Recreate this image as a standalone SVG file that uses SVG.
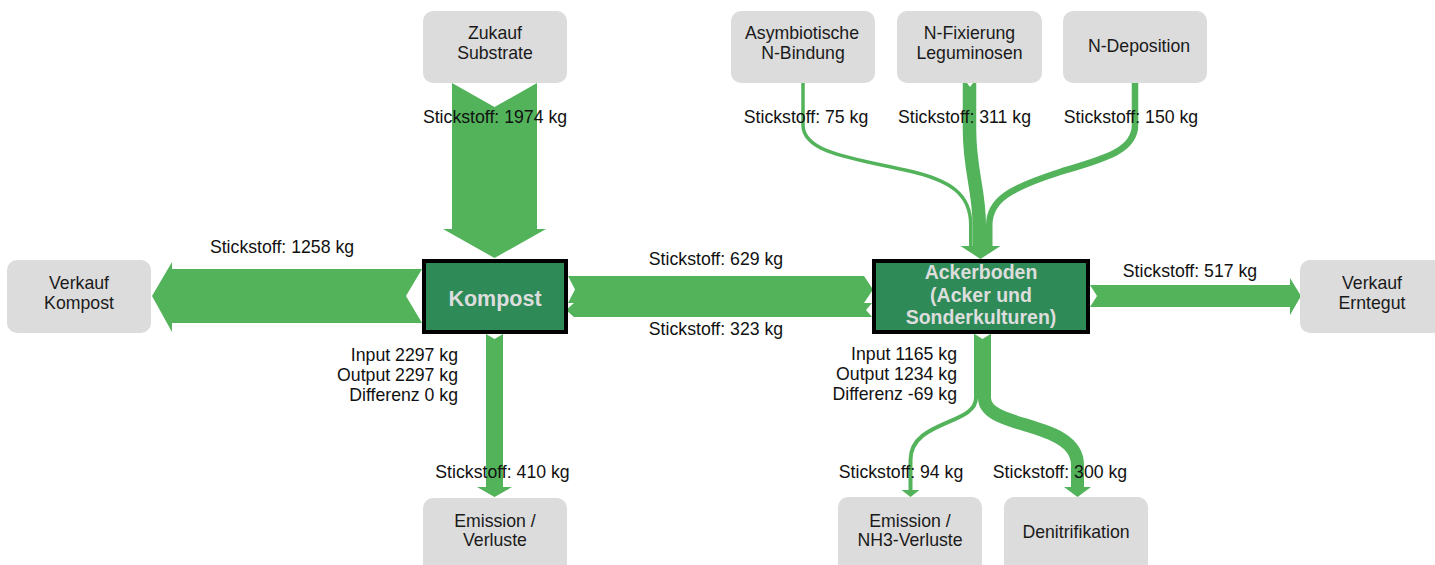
<svg xmlns="http://www.w3.org/2000/svg" width="1435" height="565" viewBox="0 0 1435 565">
<style>
.box{fill:#dcdcdc;}
.lbl{font-family:"Liberation Sans",Arial,sans-serif;font-size:17.7px;fill:#1a1a1a;text-anchor:middle;}
.flow{fill:#52b35b;}
.fs{fill:none;stroke:#52b35b;stroke-linecap:butt;}
.t{font-family:"Liberation Sans",Arial,sans-serif;font-size:17.7px;fill:#111;}
.c{text-anchor:middle;}
.r{text-anchor:end;}
.proc{fill:#2e8b57;stroke:#000;stroke-width:4;}
.pl{font-family:"Liberation Sans",Arial,sans-serif;font-weight:bold;fill:#dddddd;text-anchor:middle;}
</style>
<rect width="1435" height="565" fill="#fff"/>
<g id="connectors">
  <!-- Zukauf -> Kompost 1974 -->
  <polygon class="flow" points="452,83 494.5,107 537,83 537,229 546,229 494.5,258 443,229 452,229"/>
  <!-- Kompost -> Verkauf Kompost 1258 -->
  <polygon class="flow" points="422,269 172,269 172,262 152,296 172,332 172,323 422,323 406,296"/>
  <!-- Kompost -> Ackerboden 629 -->
  <polygon class="flow" points="568,276 864,276 873,289.5 864,303 568,303 575,289.5"/>
  <!-- Ackerboden -> Kompost 323 -->
  <polygon class="flow" points="872,303 866,310 872,317 574,317 566,310 574,303"/>
  <!-- Kompost -> Emission 410 -->
  <polygon class="flow" points="486,334 494.5,339 503,334 503,487 512,487 494.5,497 477,487 486,487"/>
  <!-- Ackerboden -> Verkauf Erntegut 517 -->
  <polygon class="flow" points="1090,285 1290,285 1290,278 1301,296 1290,315 1290,307 1090,307 1097,296"/>
  <!-- inflows to Ackerboden -->
  <path class="fs" stroke-width="3.5" d="M803,83 V125 C803,152 850,158 905,170 C952,180 970.75,195 970.75,225 V247"/>
  <path class="fs" stroke-width="13.5" d="M969.5,83 V130 C969.5,170 979.25,190 979.25,225 V247"/>
  <path class="fs" stroke-width="6.5" d="M1135,83 V125 C1135,152 1100,160 1060,172 C1010,188 989.25,200 989.25,225 V247"/>
  <polygon fill="#fff" points="967,83 970,87 973,83"/>
  <polygon class="flow" points="960.5,246 1000.5,246 980.5,259"/>
  <!-- outflows from Ackerboden -->
  <path class="fs" stroke-width="4" d="M976,334 V398 C976,425 910.5,420 910.5,460 V491"/>
  <path class="fs" stroke-width="13" d="M984.5,334 V398 C984.5,430 1077.5,420 1077.5,465 V488"/>
  <polygon fill="#fff" points="973,333 982.5,339 992,333"/>
  <polygon class="flow" points="901.5,490 919.5,490 910.5,497"/>
  <polygon class="flow" points="1064,487 1091,487 1077.5,497"/>
</g>
<g id="labels">
  <text class="t c" x="495" y="123">Stickstoff: 1974 kg</text>
  <text class="t c" x="282" y="253">Stickstoff: 1258 kg</text>
  <text class="t c" x="716" y="265">Stickstoff: 629 kg</text>
  <text class="t c" x="716" y="335">Stickstoff: 323 kg</text>
  <text class="t c" x="1190" y="277">Stickstoff: 517 kg</text>
  <text class="t c" x="806" y="123">Stickstoff: 75 kg</text>
  <text class="t c" x="964.5" y="123">Stickstoff: 311 kg</text>
  <text class="t c" x="1131" y="123">Stickstoff: 150 kg</text>
  <text class="t c" x="502.5" y="478">Stickstoff: 410 kg</text>
  <text class="t c" x="901" y="478">Stickstoff: 94 kg</text>
  <text class="t c" x="1060" y="478">Stickstoff: 300 kg</text>
  <text class="t r" x="458" y="361">Input 2297 kg</text>
  <text class="t r" x="458" y="381">Output 2297 kg</text>
  <text class="t r" x="458" y="401">Differenz 0 kg</text>
  <text class="t r" x="957" y="360">Input 1165 kg</text>
  <text class="t r" x="957" y="380">Output 1234 kg</text>
  <text class="t r" x="957" y="400">Differenz -69 kg</text>
</g>
<g id="zukauf">
  <rect class="box" x="423" y="11" width="144" height="72" rx="10"/>
  <text class="lbl" x="495" y="39">Zukauf</text>
  <text class="lbl" x="495" y="59">Substrate</text>
</g>
<g id="verkauf-kompost">
  <rect class="box" x="7" y="260" width="144" height="73" rx="10"/>
  <text class="lbl" x="79" y="289">Verkauf</text>
  <text class="lbl" x="79" y="309">Kompost</text>
</g>
<g id="emission-verluste">
  <rect class="box" x="423" y="498" width="144" height="80" rx="10"/>
  <text class="lbl" x="495" y="527">Emission /</text>
  <text class="lbl" x="495" y="546">Verluste</text>
</g>
<g id="asymbiotische">
  <rect class="box" x="731" y="11" width="144" height="72" rx="10"/>
  <text class="lbl" x="802" y="39">Asymbiotische</text>
  <text class="lbl" x="803" y="59">N-Bindung</text>
</g>
<g id="n-fixierung">
  <rect class="box" x="897" y="11" width="145" height="72" rx="10"/>
  <text class="lbl" x="969.5" y="39">N-Fixierung</text>
  <text class="lbl" x="969.5" y="59">Leguminosen</text>
</g>
<g id="n-deposition">
  <rect class="box" x="1063" y="11" width="144" height="72" rx="10"/>
  <text class="lbl" x="1139" y="52">N-Deposition</text>
</g>
<g id="verkauf-erntegut">
  <rect class="box" x="1300" y="260" width="144" height="73" rx="10"/>
  <text class="lbl" x="1372" y="289">Verkauf</text>
  <text class="lbl" x="1372" y="309">Erntegut</text>
</g>
<g id="emission-nh3">
  <rect class="box" x="838" y="497" width="144" height="80" rx="10"/>
  <text class="lbl" x="910" y="527">Emission /</text>
  <text class="lbl" x="910" y="546">NH3-Verluste</text>
</g>
<g id="denitrifikation">
  <rect class="box" x="1004" y="497" width="144" height="80" rx="10"/>
  <text class="lbl" x="1076" y="538">Denitrifikation</text>
</g>
<g id="kompost">
  <rect class="proc" x="424" y="261" width="142" height="71"/>
  <text class="pl" x="495" y="306" font-size="21.5">Kompost</text>
</g>
<g id="ackerboden">
  <rect class="proc" x="874" y="261" width="214" height="71"/>
  <text class="pl" x="981" y="279" font-size="19.5">Ackerboden</text>
  <text class="pl" x="981" y="302" font-size="19.5">(Acker und</text>
  <text class="pl" x="981" y="324" font-size="19.5">Sonderkulturen)</text>
</g>
</svg>
